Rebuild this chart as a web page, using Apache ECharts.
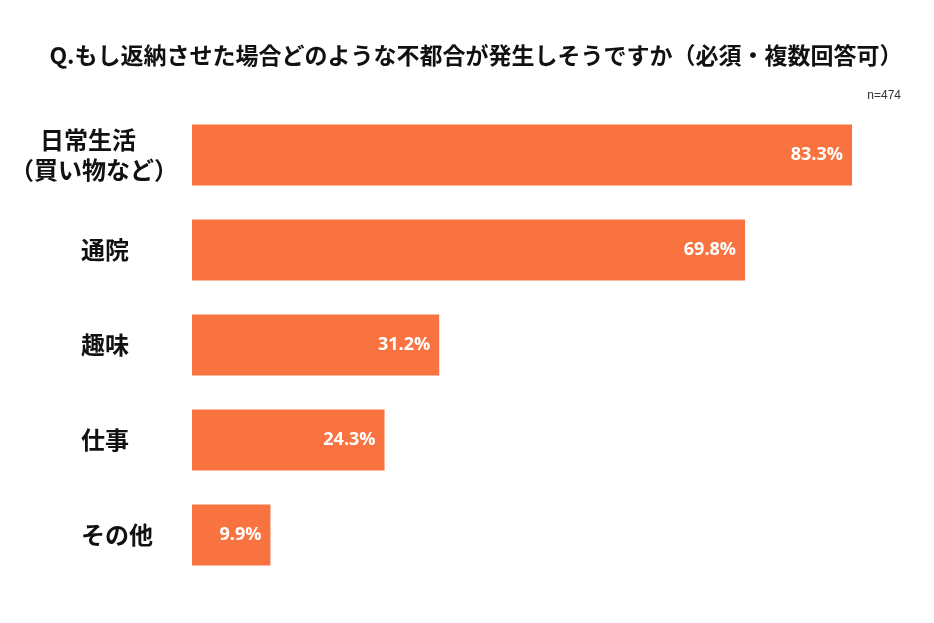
<!DOCTYPE html>
<html><head><meta charset="utf-8">
<script src="https://cdn.jsdelivr.net/npm/echarts@6/dist/echarts.min.js"></script>
<style>html,body{margin:0;padding:0;background:#fff}#c{width:934px;height:623px}</style>
</head><body><div id="c"></div>
<script>
const titleText = 'Q.もし返納させた場合どのような不都合が発生しそうですか（必須・複数回答可）';
const noteText = 'n=474';
const categories = ['日常生活\n（買い物など）', '通院', '趣味', '仕事', 'その他'];
const values = [83.3, 69.8, 31.2, 24.3, 9.9];

const chart = echarts.init(document.getElementById('c'), null, {renderer: 'canvas'});
const FONT = '"Noto Sans CJK JP", "Noto Sans", sans-serif';
chart.setOption({
  backgroundColor: '#ffffff',
  animation: false,
  title: [
    {text: titleText, left: 471, top: 39, textAlign: 'center',
     textStyle: {fontFamily: FONT, fontSize: 23, fontWeight: 'bold', color: '#111'}},
    {text: noteText, right: 28, top: 85,
     textStyle: {fontFamily: '"Liberation Sans", sans-serif', fontSize: 12, fontWeight: 'normal', color: '#333'}}
  ],
  grid: {left: 192, right: 28.9, top: 107.5, bottom: 40.5, containLabel: false},
  xAxis: {type: 'value', min: 0, max: 90, show: false},
  yAxis: {
    type: 'category', inverse: true, data: categories,
    axisLine: {show: false}, axisTick: {show: false}, splitLine: {show: false},
    axisLabel: {
      align: 'left', margin: 182,
      fontFamily: FONT, fontSize: 24, fontWeight: 'bold', color: '#111',
      formatter: function (v) {
        if (v.indexOf('\n') >= 0) {
          const p = v.split('\n');
          return '{a|' + p[0] + '}\n{b|' + p[1] + '}';
        }
        return '{s|' + v + '}';
      },
      rich: {
        a: {fontFamily: FONT, fontSize: 24, fontWeight: 'bold', color: '#111', padding: [0, 0, 0, 30], lineHeight: 30},
        b: {fontFamily: FONT, fontSize: 24, fontWeight: 'bold', color: '#111', padding: [0, 0, 0, 0], lineHeight: 30},
        s: {fontFamily: FONT, fontSize: 24, fontWeight: 'bold', color: '#111', padding: [0, 0, 0, 71]}
      }
    }
  },
  series: [{
    type: 'bar', data: values, barWidth: 61,
    itemStyle: {color: '#F8733F'},
    label: {show: true, position: 'insideRight', distance: 9,
      formatter: function (p) { return p.value.toFixed(1) + '%'; },
      fontFamily: '"Open Sans", "Noto Sans", sans-serif', fontSize: 18, fontWeight: 'bold', color: '#fff'}
  }]
});
</script></body></html>
